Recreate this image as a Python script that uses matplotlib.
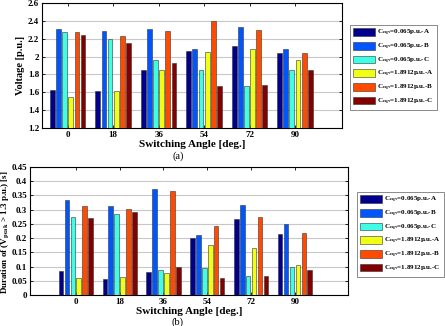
import numpy as np
import matplotlib
matplotlib.use('Agg')
import matplotlib.pyplot as plt

plt.rcParams['font.family'] = ['Liberation Serif', 'DejaVu Serif']
plt.rcParams['font.weight'] = 'bold'
plt.rcParams['mathtext.fontset'] = 'stix'

angles = ['0', '18', '36', '54', '72', '90']
labels = [r'C$_{\mathbf{eqv}}$=0.065p.u.-A', r'C$_{\mathbf{eqv}}$=0.065p.u.-B',
          r'C$_{\mathbf{eqv}}$=0.065p.u.-C', r'C$_{\mathbf{eqv}}$=1.8912p.u.-A',
          r'C$_{\mathbf{eqv}}$=1.8912p.u.-B', r'C$_{\mathbf{eqv}}$=1.8912p.u.-C']
colors = ['#00008c', '#0055ff', '#3cffe6', '#f0ff14', '#ff4a00', '#820000']

# voltage [p.u.], one row per angle, one column per series
voltage = [[1.63, 2.31, 2.27, 1.55, 2.28, 2.24],
           [1.61, 2.29, 2.20, 1.61, 2.23, 2.15],
           [1.85, 2.31, 1.96, 1.85, 2.29, 1.93],
           [2.06, 2.08, 1.85, 2.05, 2.40, 1.67],
           [2.12, 2.33, 1.67, 2.09, 2.30, 1.68],
           [2.04, 2.08, 1.85, 1.96, 2.04, 1.85]]

# duration [s]
duration = [[0.083, 0.333, 0.273, 0.061, 0.311, 0.271],
            [0.058, 0.313, 0.284, 0.065, 0.302, 0.292],
            [0.081, 0.372, 0.089, 0.079, 0.365, 0.098],
            [0.199, 0.210, 0.094, 0.176, 0.243, 0.059],
            [0.266, 0.316, 0.068, 0.164, 0.274, 0.066],
            [0.214, 0.249, 0.100, 0.107, 0.218, 0.087]]

fig = plt.figure(figsize=(4.45, 3.26), dpi=100)
ax1 = fig.add_axes([0.094, 0.607, 0.674, 0.384])
ax2 = fig.add_axes([0.067, 0.095, 0.715, 0.393])

x = np.arange(1, len(angles) + 1)


def draw(ax, data, ylim, yticks, ylabels):
    data = np.array(data)
    for i in range(6):
        ax.bar(x + (i - 2.5) * 0.135, data[:, i], width=0.105, color=colors[i],
               edgecolor='#333333', linewidth=0.4, label=labels[i], zorder=3)
    ax.set_ylim(ylim)
    ax.set_yticks(yticks)
    ax.set_yticklabels(ylabels)
    ax.set_xticks(x)
    ax.set_xticklabels(angles)
    ax.yaxis.grid(True, color='#c8c8c8', linewidth=0.8, zorder=0)
    ax.tick_params(direction='in', length=2, labelsize=6.5, width=0.6,
                   top=True, right=True, pad=2)
    for s in ax.spines.values():
        s.set_linewidth(0.8)
    ax.set_xlabel('Switching Angle [deg.]', fontsize=8, fontweight='bold', labelpad=1)


draw(ax1, voltage, (1.2, 2.6), np.arange(1.2, 2.61, 0.2),
     ['1.2', '1.4', '1.6', '1.8', '2', '2.2', '2.4', '2.6'])
ax1.set_xlim(0.43, 7.03)
ax1.set_ylabel('Voltage [p.u.]', fontsize=7.5, fontweight='bold', labelpad=2)

draw(ax2, duration, (0, 0.45), np.arange(0, 0.451, 0.05),
     ['0', '0.05', '0.1', '0.15', '0.2', '0.25', '0.3', '0.35', '0.4', '0.45'])
ax2.set_xlim(-0.05, 7.21)
ax2.set_ylabel(r'Duration of (V$_{\mathbf{peak}}$ > 1.3 p.u.) [s]', fontsize=6.5,
               fontweight='bold')
ax2.yaxis.set_label_coords(-0.06, 0.49)

leg_kw = dict(prop={'size': 5, 'weight': 'bold'}, frameon=True, fancybox=False,
              edgecolor='#555555', handlelength=3.1, handleheight=1.3,
              labelspacing=0.5, handletextpad=0.3, borderpad=0.45, borderaxespad=0)
l1 = ax1.legend(loc='upper left', bbox_to_anchor=(350 / 445, 1 - 25 / 326),
                bbox_transform=fig.transFigure, **leg_kw)
l2 = ax2.legend(loc='upper left', bbox_to_anchor=(357 / 445, 1 - 192 / 326),
                bbox_transform=fig.transFigure, **leg_kw)
for l in (l1, l2):
    l.get_frame().set_linewidth(0.6)

fig.text(0.4, 1 - 156 / 326, '(a)', ha='center', va='center', fontsize=7.5,
         fontweight='normal')
fig.text(0.4, 1 - 322 / 326, '(b)', ha='center', va='center', fontsize=7.5,
         fontweight='normal')

fig.savefig('out.png', dpi=100)
